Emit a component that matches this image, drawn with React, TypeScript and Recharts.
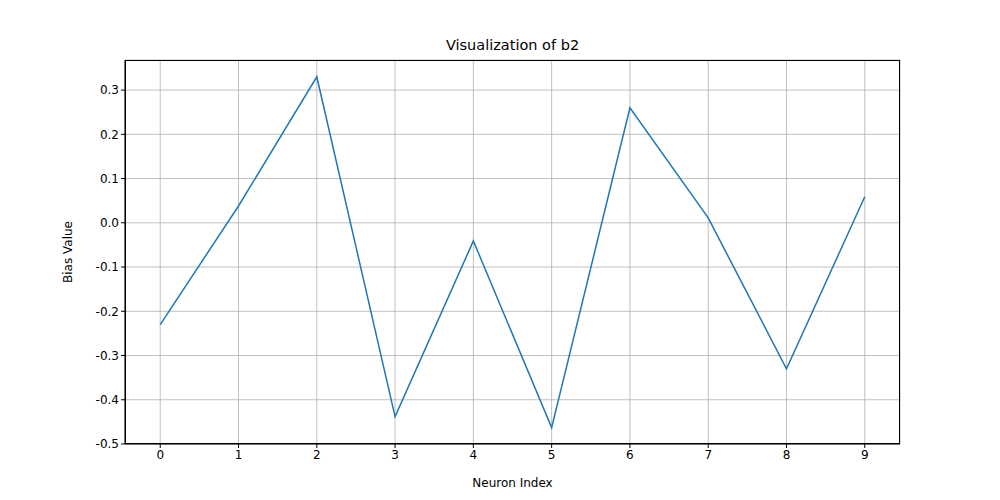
import React from 'react';
import { LineChart, Line, XAxis, YAxis, CartesianGrid } from 'recharts';

const neuronIndex = [0, 1, 2, 3, 4, 5, 6, 7, 8, 9];
const biasValues = [-0.23, 0.038, 0.33, -0.438, -0.041, -0.463, 0.26, 0.011, -0.33, 0.059];
const yTicks = [-0.5, -0.4, -0.3, -0.2, -0.1, 0.0, 0.1, 0.2, 0.3];

const data = neuronIndex.map((n, i) => ({ n, v: biasValues[i] }));

const font = 'DejaVu Sans, sans-serif';
const tick = { fill: '#000', fontSize: 12, fontFamily: font };

const App: React.FC = () => {
  return (
    <div style={{ position: 'absolute', left: 0, top: 0, width: 1000, height: 500, background: '#fff' }}>
      <div style={{ position: 'absolute', top: 37, left: 125, width: 775, textAlign: 'center', fontFamily: font, fontSize: 14.5 }}>
        Visualization of b2
      </div>
      <LineChart width={1000} height={500} data={data} margin={{ top: 60, right: 100, left: 0, bottom: 0 }}>
        <CartesianGrid stroke="#b0b0b0" strokeWidth={0.8} />
        <XAxis
          dataKey="n"
          type="number"
          domain={[-0.45, 9.45]}
          ticks={neuronIndex}
          height={56}
          tick={tick}
          stroke="#000"
          tickSize={4}
          label={{ value: 'Neuron Index', position: 'insideBottom', offset: 13, fill: '#000', fontSize: 12, fontFamily: font }}
        />
        <YAxis
          type="number"
          domain={[-0.5, 0.368]}
          ticks={yTicks}
          width={125}
          tick={tick}
          stroke="#000"
          tickSize={4}
          tickFormatter={(v: number) => v.toFixed(1)}
          label={{ value: 'Bias Value', angle: -90, position: 'insideLeft', offset: 68, fill: '#000', fontSize: 12, fontFamily: font, style: { textAnchor: 'middle' } }}
        />
        <Line dataKey="v" stroke="#1f77b4" strokeWidth={1.5} dot={false} isAnimationActive={false} />
      </LineChart>
      <div style={{ position: 'absolute', left: 125, top: 60, width: 775, height: 384, border: '1px solid #000', boxSizing: 'border-box', pointerEvents: 'none' }} />
    </div>
  );
};

export default App;
